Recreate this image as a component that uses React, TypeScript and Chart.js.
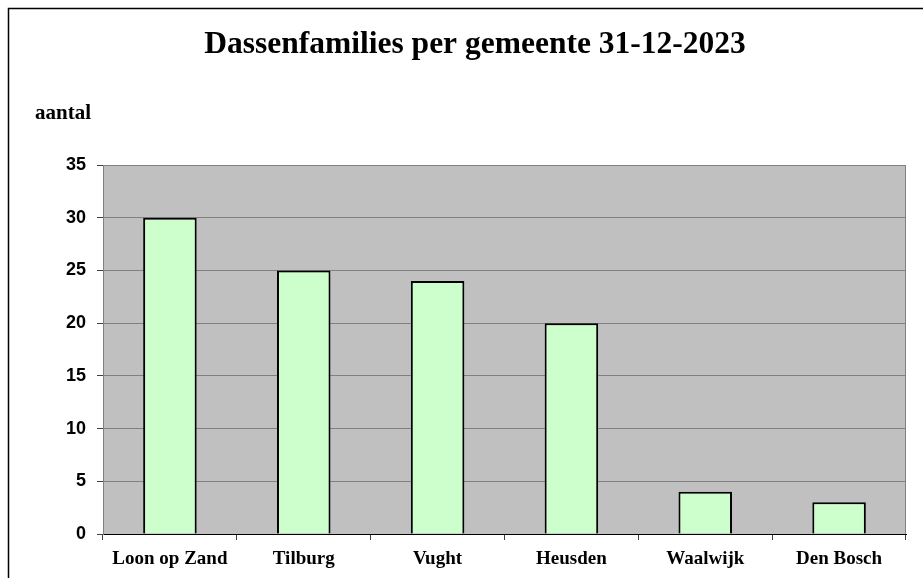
import React, { useEffect, useRef } from "react";
import { Chart, registerables } from "chart.js";

Chart.register(...registerables);

const categories = ["Loon op Zand", "Tilburg", "Vught", "Heusden", "Waalwijk", "Den Bosch"];
const values = [30, 25, 24, 20, 4, 3];
const chartTitle = "Dassenfamilies per gemeente 31-12-2023";
const yAxisLabel = "aantal";
const yMax = 35;
const yStep = 5;

const framePlugin = {
  id: "frameAndText",
  beforeDraw(chart: any) {
    const { ctx, chartArea } = chart;
    ctx.save();
    ctx.fillStyle = "#ffffff";
    ctx.fillRect(0, 0, chart.width, chart.height);
    ctx.fillStyle = "#c0c0c0";
    ctx.fillRect(chartArea.left, chartArea.top, chartArea.right - chartArea.left, chartArea.bottom - chartArea.top);
    ctx.strokeStyle = "#808080";
    ctx.lineWidth = 1;
    ctx.strokeRect(chartArea.left + 0.5, chartArea.top + 0.5, chartArea.right - chartArea.left - 1, chartArea.bottom - chartArea.top);
    ctx.restore();
  },
  afterDraw(chart: any) {
    const { ctx } = chart;
    ctx.save();
    ctx.strokeStyle = "#000000";
    ctx.lineWidth = 1.5;
    ctx.beginPath();
    ctx.moveTo(8.5, chart.height);
    ctx.lineTo(8.5, 8.5);
    ctx.lineTo(chart.width, 8.5);
    ctx.stroke();
    ctx.fillStyle = "#000000";
    ctx.textBaseline = "alphabetic";
    ctx.textAlign = "center";
    ctx.font = "bold 31.5px 'Liberation Serif', 'Times New Roman', serif";
    ctx.fillText(chartTitle, 475, 53);
    ctx.textAlign = "left";
    ctx.font = "bold 21px 'Liberation Serif', 'Times New Roman', serif";
    ctx.fillText(yAxisLabel, 35, 119);
    ctx.restore();
  },
};

export default function App() {
  const ref = useRef<HTMLCanvasElement | null>(null);
  useEffect(() => {
    if (!ref.current) return;
    const chart = new Chart(ref.current, {
      type: "bar",
      data: {
        labels: categories,
        datasets: [
          {
            data: values,
            backgroundColor: "#ccffcc",
            borderColor: "#000000",
            borderWidth: 2,
            barPercentage: 0.4,
            categoryPercentage: 1,
          },
        ],
      },
      options: {
        responsive: false,
        animation: false,
        layout: { padding: { top: 165, right: 17, bottom: 0, left: 0 } },
        plugins: { legend: { display: false }, title: { display: false }, tooltip: { enabled: false } },
        scales: {
          x: {
            afterFit: (s: any) => { s.height = 44; },
            grid: { drawOnChartArea: false, drawTicks: true, tickLength: 6, color: "#404040", offset: true },
            border: { color: "#000000", width: 1 },
            ticks: {
              color: "#000000",
              padding: 8,
              font: { family: "'Liberation Serif', 'Times New Roman', serif", size: 19, weight: "bold" },
              maxRotation: 0,
            },
          },
          y: {
            min: 0,
            max: yMax,
            afterFit: (s: any) => { s.width = 103; },
            grid: { color: "#808080", lineWidth: 1, tickLength: 6, tickColor: "#404040" },
            border: { color: "#808080", width: 1 },
            ticks: {
              stepSize: yStep,
              color: "#000000",
              padding: 11,
              font: { family: "'Liberation Sans', Arial, sans-serif", size: 18, weight: "bold" },
            },
          },
        },
      },
      plugins: [framePlugin],
    });
    return () => chart.destroy();
  }, []);
  return (
    <div style={{ position: "fixed", left: 0, top: 0, width: 923, height: 578, background: "#fff" }}>
      <canvas ref={ref} width={923} height={578} style={{ display: "block", width: 923, height: 578 }} />
    </div>
  );
}
